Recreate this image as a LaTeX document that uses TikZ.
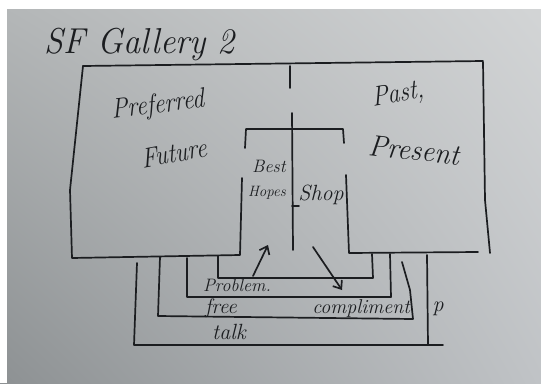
\documentclass[tikz,border=0pt]{standalone}
\definecolor{ink}{HTML}{1B1D20}
\definecolor{boardul}{HTML}{B4B7B8}
\definecolor{boardur}{HTML}{D3D5D6}
\definecolor{boardll}{HTML}{8D9193}
\definecolor{boardlr}{HTML}{C0C3C6}
\usepackage{tikz}
\usetikzlibrary{arrows.meta, shadings}

\begin{document}
\begin{tikzpicture}[x=1pt, y=-1pt,
  wall/.style={draw=ink, line width=1.7pt, line join=round, line cap=round},
  hand/.style={text=ink, font=\itshape, inner sep=0pt},
  pointer/.style={wall, -{Straight Barb[length=7pt, width=11pt]}},
]
\useasboundingbox (0,0) rectangle (541,383);
\shade[upper left=boardul, upper right=boardur, lower left=boardll, lower right=boardlr]
  (0,0) rectangle (541,383);
\fill[white] (0,0) rectangle (541,9);
\fill[white] (0,0) rectangle (7,383);

\node[hand, font=\fontsize{36}{36}\selectfont\itshape, xscale=0.95] (title) at (140,44) {SF Gallery 2};

\draw[wall] (483,62) -- (485,200) -- (490,253);
\draw[wall] (83,66) -- (483,61);
\draw[wall] (83,66) -- (70,190) -- (72,258) -- (240,255) -- (242,178);
\draw[wall] (478,252) -- (349,253) -- (346,175);
\draw[wall] (290,66) -- (290,88);
\draw[wall] (245,148) -- (246,129) -- (343,129) -- (344,143);
\draw[wall] (292,113) -- (293,250);
\draw[wall] (292,206) -- (299,206);

\node[hand, font=\fontsize{28}{28}\selectfont\itshape, xscale=0.85, rotate=6] (pref) at (158,106) {Preferred};
\node[hand, font=\fontsize{28}{28}\selectfont\itshape, xscale=0.85, rotate=9] (future) at (174,153) {Future};
\node[hand, font=\fontsize{28}{28}\selectfont\itshape, xscale=0.85, rotate=8] (past) at (398,95) {Past,};
\node[hand, font=\fontsize{30}{30}\selectfont\itshape, xscale=0.95, rotate=-6] (present) at (414,150) {Present};

\node[hand, font=\fontsize{18}{18}\selectfont\itshape] (best) at (269,166) {Best};
\node[hand, font=\fontsize{15}{15}\selectfont\itshape] (hopes) at (267,193) {Hopes};
\node[hand, font=\fontsize{22}{22}\selectfont\itshape] (shop) at (321,195) {Shop};

\draw[wall] (218,256) -- (218,278) -- (373,278) -- (372,254);
\draw[wall] (187,258) -- (187,297) -- (391,297) -- (390,254);
\draw[wall] (160,257) -- (158,316) -- (413,319) -- (410,290) -- (402,262);
\draw[wall] (137,263) -- (134,345) -- (443,345);
\draw[wall] (427,255) -- (428,345);

\node[hand, font=\fontsize{18}{18}\selectfont\itshape] (problem) at (237,285) {Problem.};
\node[hand, font=\fontsize{21}{21}\selectfont\itshape] (free) at (221,308) {free};
\node[hand, font=\fontsize{22}{22}\selectfont\itshape] (talk) at (229,332) {talk};
\node[hand, font=\fontsize{20}{20}\selectfont\itshape] (compl) at (361,308) {compliment};
\node[hand, font=\fontsize{22}{22}\selectfont\itshape] (pmark) at (438,309) {p};

\coordinate (upfrom) at (253,276);
\coordinate (upto) at (268,245);
\coordinate (downfrom) at (313,247);
\coordinate (downto) at (342,290);
\draw[pointer] (upfrom) -- (upto);
\draw[pointer] (downfrom) -- (downto);
\end{tikzpicture}
\end{document}
